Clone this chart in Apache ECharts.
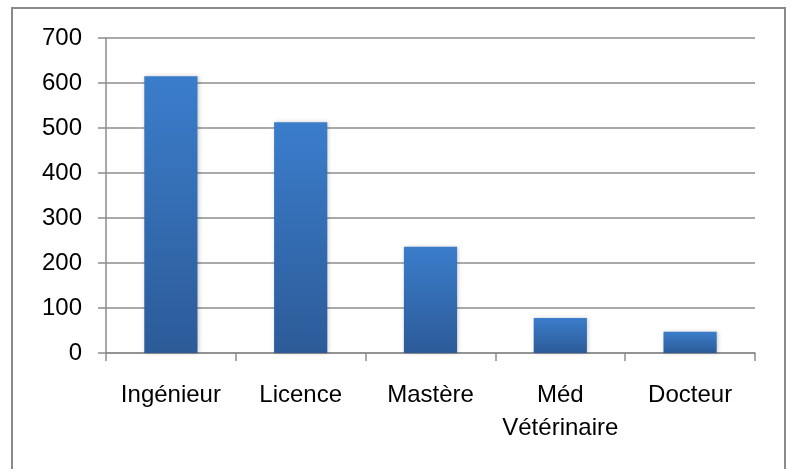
<!DOCTYPE html>
<html>
<head>
<meta charset="utf-8">
<script src="https://cdn.jsdelivr.net/npm/echarts@6/dist/echarts.min.js"></script>
<style>
  html, body { margin: 0; padding: 0; background: #fff; }
  #chart { width: 791px; height: 469px; }
</style>
</head>
<body>
<div id="chart"></div>
<script>
var categories = ['Ingénieur', 'Licence', 'Mastère', 'Méd\nVétérinaire', 'Docteur'];
var values = [615, 513, 236, 78, 47];
var yTicks = [0, 100, 200, 300, 400, 500, 600, 700];

var myChart = echarts.init(document.getElementById('chart'));
var gridColor = '#8c8c8c';
var font = 'Liberation Sans, Arial, sans-serif';

var option = {
  animation: false,
  graphic: [
    {
      type: 'rect',
      shape: { x: 12, y: 8, width: 773, height: 480 },
      style: { fill: 'none', stroke: '#8a8a8a', lineWidth: 2 },
      silent: true
    }
  ],
  grid: { left: 106, right: 36, top: 38, bottom: 116 },
  xAxis: {
    type: 'category',
    data: categories,
    axisLine: { lineStyle: { color: gridColor, width: 1.5 } },
    axisTick: { show: true, length: 8, lineStyle: { color: gridColor, width: 1.5 } },
    axisLabel: {
      color: '#000',
      fontFamily: font,
      fontSize: 24,
      margin: 26,
      lineHeight: 33,
      interval: 0
    }
  },
  yAxis: {
    type: 'value',
    min: yTicks[0],
    max: yTicks[yTicks.length - 1],
    interval: 100,
    axisLine: { show: true, lineStyle: { color: gridColor, width: 1.5 } },
    axisTick: { show: true, length: 8, lineStyle: { color: gridColor, width: 1.5 } },
    splitLine: { lineStyle: { color: gridColor, width: 1.5 } },
    axisLabel: {
      color: '#000',
      fontFamily: font,
      fontSize: 24,
      margin: 24
    }
  },
  series: [
    {
      type: 'bar',
      data: values,
      barWidth: '41%',
      itemStyle: {
        color: new echarts.graphic.LinearGradient(0, 0, 0, 1, [
          { offset: 0, color: '#3b7dcb' },
          { offset: 1, color: '#2c5b98' }
        ]),
        shadowBlur: 4,
        shadowColor: 'rgba(0,0,0,0.2)',
        shadowOffsetX: 1
      }
    }
  ]
};

option && myChart.setOption(option);
</script>
</body>
</html>
